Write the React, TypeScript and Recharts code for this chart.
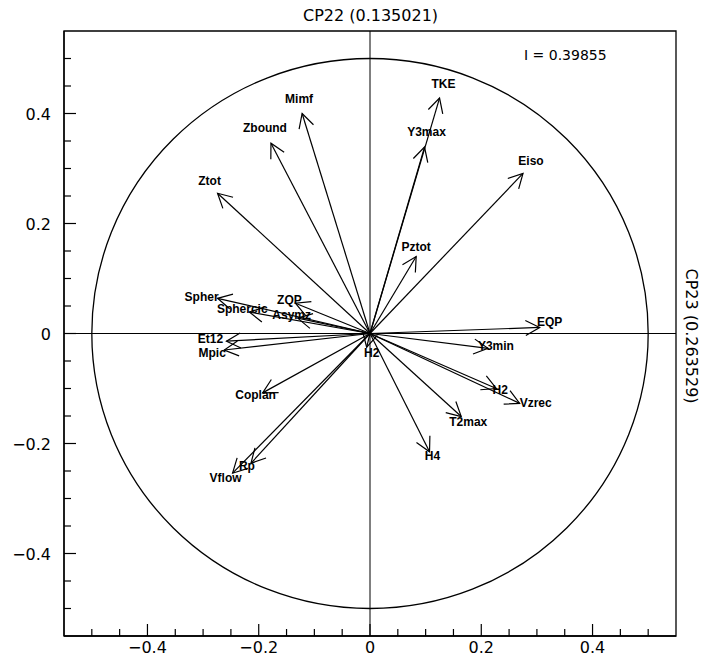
import React from 'react';
import {
  ScatterChart,
  Scatter,
  XAxis,
  YAxis,
  ReferenceLine,
  ReferenceArea,
  Customized,
} from 'recharts';

// ---- Data ----
const variableNames = [
  'TKE', 'Y3max', 'Eiso', 'Pztot', 'Mimf', 'Zbound', 'Ztot', 'Spher', 'Sphercic',
  'ZQP', 'Asymz', 'Et12', 'Mpic', 'Coplan', 'Rp', 'Vflow', 'EQP', 'Y3min', 'H2',
  'Vzrec', 'T2max', 'H4', 'H2',
];
// CP22 coordinates (horizontal)
const cp22Values = [
  0.125, 0.098, 0.275, 0.083, -0.122, -0.178, -0.274, -0.274, -0.217,
  -0.134, -0.130, -0.258, -0.262, -0.193, -0.214, -0.247, 0.305, 0.212, 0.227,
  0.269, 0.164, 0.107, -0.006,
];
// CP23 coordinates (vertical)
const cp23Values = [
  0.428, 0.339, 0.291, 0.140, 0.400, 0.346, 0.255, 0.064, 0.039,
  0.055, 0.028, -0.014, -0.030, -0.108, -0.236, -0.254, 0.011, -0.027, -0.100,
  -0.127, -0.151, -0.215, -0.025,
];

const axisTicks = [
  -0.5, -0.45, -0.4, -0.35, -0.3, -0.25, -0.2, -0.15, -0.1, -0.05, 0,
  0.05, 0.1, 0.15, 0.2, 0.25, 0.3, 0.35, 0.4, 0.45, 0.5,
];
const majorTicks = [-0.4, -0.2, 0, 0.2, 0.4];
const majorTickLabels = ['\u22120.4', '\u22120.2', '0', '0.2', '0.4'];

const titleTop = 'CP22 (0.135021)';
const titleRight = 'CP23 (0.263529)';
const inertiaText = 'I = 0.39855';
const circleRadius = 0.5;

// ---- Layout (label offsets in pixels, relative to arrow tip) ----
const labelOffsets: [number, number][] = [
  [4, -14], [2, -15], [8, -12], [0, -10], [-3, -15], [-6, -15], [-8, -12], [-16, -1], [-7, -3],
  [-6, -3], [-6, -3], [-16, -2], [-12, 3], [-7, 2], [-4, 3], [-7, 5], [10, -5], [8, -2], [4, 1],
  [16, 0], [7, 5], [3, 4], [5, 6],
];

const BLACK = '#000';
const TICK_FONT = 'DejaVu Sans';
const LABEL_FONT = 'Liberation Sans';

const isMajor = (v: number) => majorTicks.findIndex((m) => Math.abs(m - v) < 1e-9);

const XTick = (props: any) => {
  const { x, y, payload } = props;
  const mi = isMajor(payload.value);
  const len = mi >= 0 ? 12 : 7;
  return (
    <g>
      <line x1={x} x2={x} y1={y} y2={y - len} stroke={BLACK} strokeWidth={1.2} />
      {mi >= 0 && (
        <text x={x} y={y + 17} textAnchor="middle" fontFamily={TICK_FONT} fontSize={16} fill={BLACK}>
          {majorTickLabels[mi]}
        </text>
      )}
    </g>
  );
};

const YTick = (props: any) => {
  const { x, y, payload } = props;
  const mi = isMajor(payload.value);
  const len = mi >= 0 ? 12 : 7;
  return (
    <g>
      <line x1={x} x2={x + len} y1={y} y2={y} stroke={BLACK} strokeWidth={1.2} />
      {mi >= 0 && (
        <text x={x - 13} y={y + 6} textAnchor="end" fontFamily={TICK_FONT} fontSize={16} fill={BLACK}>
          {majorTickLabels[mi]}
        </text>
      )}
    </g>
  );
};

const CircleShape = (p: any) => {
  const { x1, y1, x2, y2 } = p;
  const cx = (x1 + x2) / 2;
  const cy = (y1 + y2) / 2;
  return (
    <ellipse
      cx={cx}
      cy={cy}
      rx={Math.abs(x2 - x1) / 2}
      ry={Math.abs(y2 - y1) / 2}
      fill="none"
      stroke={BLACK}
      strokeWidth={1.3}
    />
  );
};

const makeArrow = (name: string, ox: number, oy: number) => (p: any) => {
  const { x1, y1, x2, y2 } = p;
  const back = Math.atan2(y1 - y2, x1 - x2);
  const L = 16;
  const A = (28 * Math.PI) / 180;
  const bx1 = x2 + L * Math.cos(back + A);
  const by1 = y2 + L * Math.sin(back + A);
  const bx2 = x2 + L * Math.cos(back - A);
  const by2 = y2 + L * Math.sin(back - A);
  return (
    <g>
      <line x1={x1} y1={y1} x2={x2} y2={y2} stroke={BLACK} strokeWidth={1.2} />
      <polyline
        points={`${bx1},${by1} ${x2},${y2} ${bx2},${by2}`}
        fill="none"
        stroke={BLACK}
        strokeWidth={1.2}
      />
      <text
        x={x2 + ox}
        y={y2 + oy + 4}
        textAnchor="middle"
        fontFamily={LABEL_FONT}
        fontWeight="bold"
        fontSize={12}
        fill={BLACK}
      >
        {name}
      </text>
    </g>
  );
};

const Texts = () => (
  <g>
    <text x={370.5} y={21} textAnchor="middle" fontFamily={TICK_FONT} fontSize={16} fill={BLACK}>
      {titleTop}
    </text>
    <text x={524} y={60} textAnchor="start" fontFamily={TICK_FONT} fontSize={14} fill={BLACK}>
      {inertiaText}
    </text>
    <text
      x={686}
      y={336}
      textAnchor="middle"
      fontFamily={TICK_FONT}
      fontSize={16}
      fill={BLACK}
      transform="rotate(90, 686, 336)"
    >
      {titleRight}
    </text>
  </g>
);

export default function App() {
  const data = variableNames.map((name, i) => ({ name, x: cp22Values[i], y: cp23Values[i] }));
  return (
    <div style={{ position: 'absolute', left: 0, top: 0, width: 705, height: 659, background: '#fff' }}>
      <ScatterChart width={705} height={659} margin={{ top: 31, right: 29, bottom: 0, left: 8 }}>
        <XAxis
          type="number"
          dataKey="x"
          domain={[-0.55, 0.55]}
          ticks={axisTicks}
          interval={0}
          height={23}
          tickSize={0}
          tickMargin={0}
          tickLine={false}
          axisLine={{ stroke: BLACK, strokeWidth: 1.3 }}
          tick={(p: any) => <XTick {...p} />}
          allowDataOverflow
        />
        <YAxis
          type="number"
          dataKey="y"
          domain={[-0.55, 0.55]}
          ticks={axisTicks}
          interval={0}
          width={56}
          tickSize={0}
          tickMargin={0}
          tickLine={false}
          axisLine={{ stroke: BLACK, strokeWidth: 1.3 }}
          tick={(p: any) => <YTick {...p} />}
          allowDataOverflow
        />
        <ReferenceArea
          x1={-0.55}
          x2={0.55}
          y1={-0.55}
          y2={0.55}
          fill="none"
          fillOpacity={0}
          stroke={BLACK}
          strokeWidth={1.3}
          ifOverflow="visible"
        />
        <ReferenceLine x={0} stroke={BLACK} strokeWidth={1} />
        <ReferenceLine y={0} stroke={BLACK} strokeWidth={1} />
        <ReferenceLine
          segment={[
            { x: -circleRadius, y: -circleRadius },
            { x: circleRadius, y: circleRadius },
          ]}
          shape={CircleShape}
        />
        {data.map((d, i) => (
          <ReferenceLine
            key={i}
            segment={[
              { x: 0, y: 0 },
              { x: d.x, y: d.y },
            ]}
            shape={makeArrow(d.name, labelOffsets[i][0], labelOffsets[i][1])}
          />
        ))}
        <Scatter data={data} isAnimationActive={false} shape={() => <g />} />
        <Customized component={Texts} />
      </ScatterChart>
    </div>
  );
}
